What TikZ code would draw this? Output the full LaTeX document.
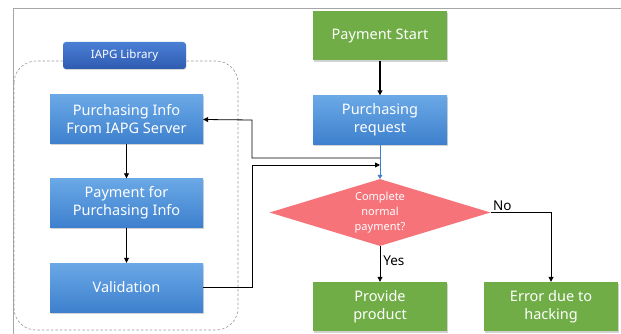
\documentclass[tikz,border=0pt]{standalone}
\usepackage{fontspec}
\setmainfont{Noto Sans}
\usetikzlibrary{shapes.geometric,arrows.meta,shadows}
\definecolor{gboxc}{HTML}{70AD47}
\definecolor{btop}{HTML}{6AA8E6}
\definecolor{bbot}{HTML}{3E80CE}
\definecolor{ltop}{HTML}{4A7FD6}
\definecolor{lbot}{HTML}{2F5BB0}
\definecolor{diac}{HTML}{F7737A}
\definecolor{framec}{HTML}{A6A6A6}
\tikzset{
  base/.style={minimum width=134pt, minimum height=49pt, text=white, align=center,
    font=\fontsize{14.5}{18}\selectfont, inner sep=1pt,
    drop shadow={shadow xshift=1pt, shadow yshift=-1.5pt, opacity=0.35}},
  gbox/.style={base, fill=gboxc},
  bbox/.style={base, top color=btop, bottom color=bbot, minimum width=153pt},
  lib/.style={rounded corners=3pt, top color=ltop, bottom color=lbot, text=white,
    minimum width=123pt, minimum height=27pt, font=\fontsize{11.5}{13}\selectfont,
    drop shadow={shadow xshift=0.5pt, shadow yshift=-1pt, opacity=0.3}},
  dia/.style={diamond, fill=diac, aspect=3.3, minimum width=221pt, minimum height=67pt,
    inner sep=0pt, text=white, align=center, font=\fontsize{11}{15}\selectfont},
  arr/.style={-{Triangle[length=5pt,width=5pt]}, line width=0.8pt, black},
  lbl/.style={font=\fontsize{13.5}{15}\selectfont, text=black, inner sep=1pt}
}
\begin{document}
\begin{tikzpicture}[x=1pt,y=-1pt]
\useasboundingbox (0,0) rectangle (621,334);
\fill[white] (0,0) rectangle (621,334);
\draw[framec, line width=0.8pt] (13,334) -- (13,8) -- (621,8);
% dashed library group
\draw[gray!80, dashed, dash pattern=on 2.5pt off 2pt, line width=0.6pt, rounded corners=22pt] (14,61) rectangle (238,330);
% library label
\node[lib] (libl) at (124.5,55.5) {IAPG Library};
% left column
\node[bbox] (pinfo) at (126.5,119.5) {Purchasing Info\\From IAPG Server};
\node[bbox] (pay) at (126.5,203) {Payment for\\Purchasing Info};
\node[bbox] (val) at (126.5,287.5) {Validation};
% right column
\node[gbox] (start) at (380,36) {Payment Start};
\node[bbox, minimum width=134pt] (req) at (380,120) {Purchasing\\request};
\node[dia] (dec) at (380,212.5) {Complete\\normal\\payment?};
\node[gbox] (prov) at (380,306.5) {Provide\\product};
\node[gbox] (err) at (551,306.5) {Error due to\\hacking};
% helper coordinates
\coordinate (j1) at (380,158);
\coordinate (j2) at (380,165);
% arrows
\draw[arr, line width=1.2pt] (start) -- (req);
\draw[-{Triangle[length=4pt,width=5pt]}, color=bbot, line width=0.6pt] (req) -- (dec);
\draw[arr] (j1) -| (252,120) -- (pinfo.east);
\draw[arr] (val.east) -| (252,165) -- (j2);
\draw[arr] (pinfo) -- (pay);
\draw[arr] (pay) -- (val);
\draw[arr] (dec.south) -- (prov.north) node[lbl, pos=0.4, anchor=west, xshift=2pt] {Yes};
\draw[arr] (dec.east) -| (err.north) node[lbl, pos=0, anchor=south west, xshift=1pt] {No};
\end{tikzpicture}
\end{document}
